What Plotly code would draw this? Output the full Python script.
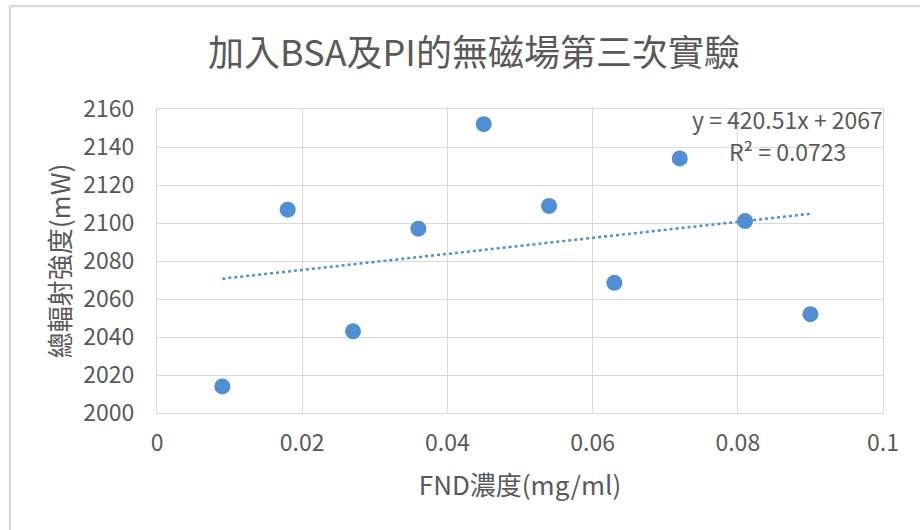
import numpy as np
import plotly.graph_objects as go

# Data
fnd_conc = [0.009, 0.018, 0.027, 0.036, 0.045, 0.054, 0.063, 0.072, 0.081, 0.090]
total_intensity = [2014, 2107, 2043, 2097, 2152, 2109, 2068.5, 2134, 2101, 2052]
x_ticks = [0, 0.02, 0.04, 0.06, 0.08, 0.1]
x_tick_labels = ["0", "0.02", "0.04", "0.06", "0.08", "0.1"]
y_ticks = [2000, 2020, 2040, 2060, 2080, 2100, 2120, 2140, 2160]
eq_text = "y = 420.51x + 2067"
r2_text = "R² = 0.0723"

FONT = "Noto Sans CJK TC, Open Sans, sans-serif"
GRAY = "#595959"
GRID = "#d9d9d9"
BLUE = "#4e8fd5"

# linear trendline from the data
slope, intercept = np.polyfit(fnd_conc, total_intensity, 1)
tx = [min(fnd_conc), max(fnd_conc)]
ty = [slope * v + intercept for v in tx]

fig = go.Figure()
fig.add_trace(go.Scatter(x=tx, y=ty, mode="lines",
                         line=dict(color=BLUE, width=2.5, dash="dot"),
                         showlegend=False, hoverinfo="skip"))
fig.add_trace(go.Scatter(x=fnd_conc, y=total_intensity, mode="markers",
                         marker=dict(color=BLUE, size=16, line=dict(width=0)),
                         showlegend=False))

L, R, T, B = 157, 37.3, 109, 117.3
W, H = 920, 530
pw, ph = W - L - R, H - T - B

def px_x(p):
    return (p - L) / pw

def px_y(p):
    return (H - B - p) / ph

fig.update_layout(
    width=W, height=H, autosize=False,
    margin=dict(l=L, r=R, t=T, b=B, pad=0),
    paper_bgcolor="white", plot_bgcolor="white",
    font=dict(family=FONT, color=GRAY, size=23),
    title=dict(text="加入BSA及PI的無磁場第三次實驗",
               font=dict(family=FONT, size=36, color=GRAY),
               x=474 / W, xanchor="center", y=1 - 53 / H, yanchor="middle"),
    xaxis=dict(range=[0, 0.1], tickvals=x_ticks, ticktext=x_tick_labels,
               showgrid=True, gridcolor=GRID, gridwidth=1,
               showline=True, linecolor=GRID, linewidth=1, mirror=True,
               zeroline=False, ticks="outside", ticklen=9,
               tickcolor="rgba(0,0,0,0)",
               tickfont=dict(family=FONT, size=23, color=GRAY),
               title=dict(text="FND濃度(mg/ml)", standoff=20,
                          font=dict(family=FONT, size=26, color=GRAY))),
    yaxis=dict(range=[2000, 2160], tickvals=y_ticks,
               showgrid=True, gridcolor=GRID, gridwidth=1,
               showline=True, linecolor=GRID, linewidth=1, mirror=True,
               zeroline=False, ticks="outside", ticklen=17,
               tickcolor="rgba(0,0,0,0)",
               tickfont=dict(family=FONT, size=23, color=GRAY),
               title=dict(text="總輻射強度(mW)", standoff=5,
                          font=dict(family=FONT, size=26, color=GRAY))),
    annotations=[
        dict(text=eq_text, x=px_x(787), y=px_y(119), xref="paper", yref="paper",
             xanchor="center", yanchor="middle", showarrow=False,
             font=dict(family=FONT, size=23, color=GRAY)),
        dict(text=r2_text, x=px_x(787), y=px_y(151), xref="paper", yref="paper",
             xanchor="center", yanchor="middle", showarrow=False,
             font=dict(family=FONT, size=23, color=GRAY)),
    ],
    shapes=[
        dict(type="line", xref="paper", yref="paper",
             x0=px_x(10), x1=px_x(10), y0=px_y(6), y1=px_y(531),
             line=dict(color=GRID, width=2.5)),
        dict(type="line", xref="paper", yref="paper",
             x0=px_x(10), x1=px_x(921), y0=px_y(6), y1=px_y(6),
             line=dict(color=GRID, width=2.5)),
    ],
)

fig.write_html("out.html", config={"displayModeBar": False},
               post_script="document.body.style.margin='0';document.body.style.overflow='hidden';")
